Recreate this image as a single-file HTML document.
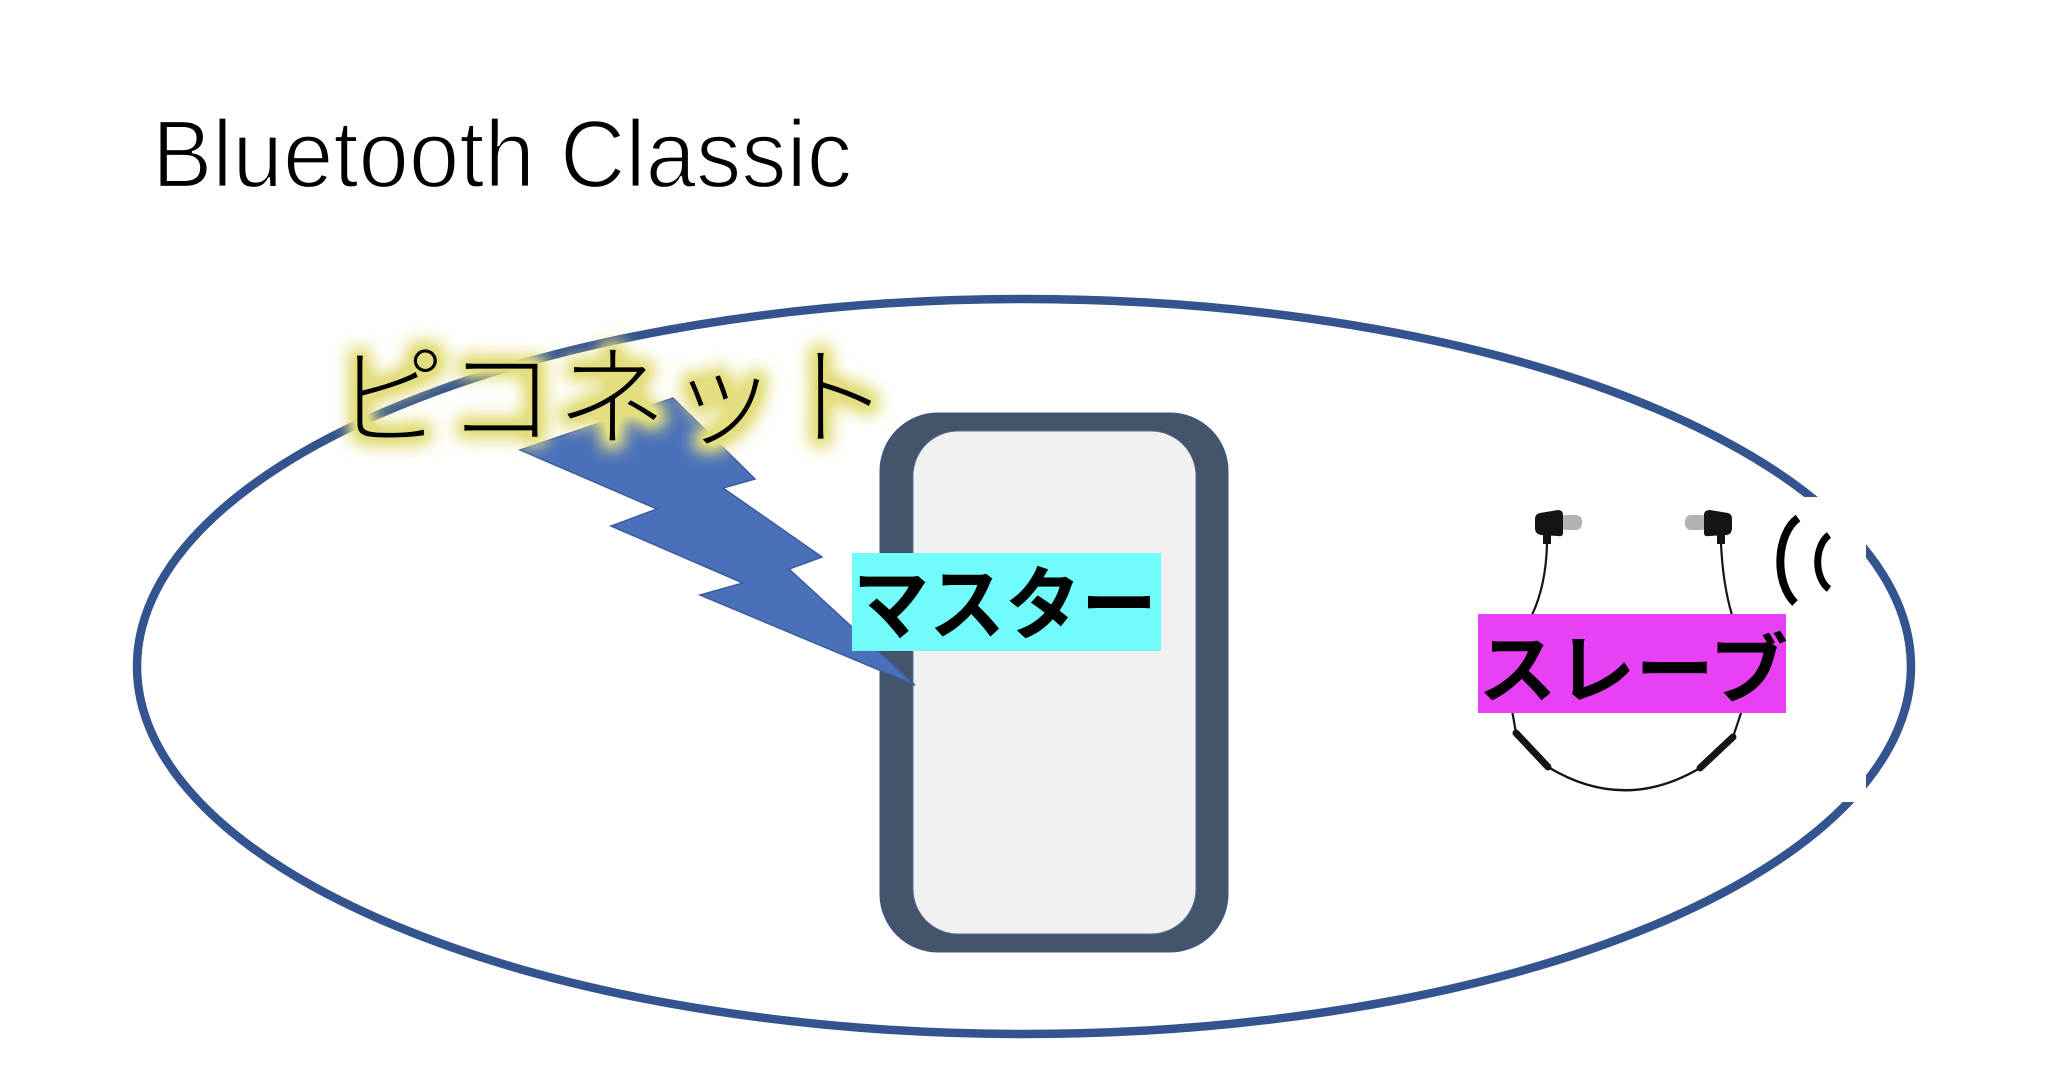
<!DOCTYPE html>
<html>
<head>
<meta charset="utf-8">
<style>
  html, body { margin: 0; padding: 0; background: #ffffff; }
  body { width: 2048px; height: 1091px; overflow: hidden; }
  svg { display: block; }
</style>
</head>
<body>
<svg width="2048" height="1091" viewBox="0 0 2048 1091" xmlns="http://www.w3.org/2000/svg">
  <defs>
    <filter id="glow" x="-20%" y="-50%" width="140%" height="200%">
      <feMorphology in="SourceAlpha" operator="dilate" radius="7" result="d"/>
      <feGaussianBlur in="d" stdDeviation="8.5" result="b"/>
      <feComponentTransfer in="b" result="b2">
        <feFuncA type="linear" slope="1.35"/>
      </feComponentTransfer>
      <feFlood flood-color="#E3DE80" flood-opacity="1" result="c"/>
      <feComposite in="c" in2="b2" operator="in" result="g"/>
      <feMerge>
        <feMergeNode in="g"/>
        <feMergeNode in="SourceGraphic"/>
      </feMerge>
    </filter>
  </defs>

  <rect x="0" y="0" width="2048" height="1091" fill="#ffffff"/>

  <!-- Title -->
  <text x="152" y="187" font-family="'Liberation Sans', sans-serif" font-size="96" fill="#000"
        stroke="#fff" stroke-width="2.2" textLength="700" lengthAdjust="spacingAndGlyphs">Bluetooth Classic</text>

  <!-- Piconet ellipse -->
  <ellipse cx="1024" cy="666.5" rx="887" ry="367.5" fill="none" stroke="#34548F" stroke-width="8.5"/>

  <!-- white background of earphone picture covering ellipse -->
  <rect x="1470" y="497" width="396" height="305" fill="#ffffff"/>

  <!-- Phone -->
  <rect x="880" y="413" width="348" height="539" rx="58" ry="58" fill="#44546A" stroke="#3A5488" stroke-width="1"/>
  <rect x="913" y="431" width="283" height="503" rx="45" ry="45" fill="#F1F1F1" stroke="#5A6E90" stroke-width="1"/>

  <!-- Lightning bolt -->
  <polygon points="673,398 755,479 723,488 822,557 789,569 915,685 700,595 743,583 611,526 657,509 520,450"
           fill="#4A70BA" stroke="#3B5C9E" stroke-width="1.5" stroke-linejoin="miter"/>

  <!-- Master label -->
  <rect x="852" y="553" width="309" height="98" fill="#72FBFB"/>
  <text x="853" y="633" font-family="'Liberation Sans', 'Noto Sans CJK JP', sans-serif" font-weight="700"
        font-size="80" fill="#000" textLength="304" lengthAdjust="spacingAndGlyphs">マスター</text>

  <!-- Earphones -->
  <g>
    <!-- left bud -->
    <rect x="1560" y="515" width="22" height="15" rx="6" ry="6" fill="#B3B3B3"/>
    <path d="M1540,513 L1558,510 Q1563,510 1563,515 L1563,533 Q1563,537 1558,536 L1541,535 Q1535,534 1535,528 L1535,519 Q1535,514 1540,513 Z" fill="#141414"/>
    <rect x="1543" y="534" width="8" height="10" fill="#141414"/>
    <path d="M1547,544 Q1546,585 1532,615" fill="none" stroke="#141414" stroke-width="2.2"/>
    <!-- right bud -->
    <rect x="1685" y="515" width="22" height="15" rx="6" ry="6" fill="#B3B3B3"/>
    <path d="M1728,513 L1710,510 Q1704,510 1704,515 L1704,533 Q1704,537 1709,536 L1727,535 Q1732,534 1732,528 L1732,519 Q1732,514 1728,513 Z" fill="#141414"/>
    <rect x="1717" y="534" width="8" height="10" fill="#141414"/>
    <path d="M1721,544 Q1723,585 1732,615" fill="none" stroke="#141414" stroke-width="2.2"/>
    <!-- lower wire -->
    <path d="M1512,710 L1516,733" fill="none" stroke="#141414" stroke-width="2.2"/>
    <path d="M1516,733 L1548,767" fill="none" stroke="#141414" stroke-width="7" stroke-linecap="round"/>
    <path d="M1548,767 Q1624,813 1700,768" fill="none" stroke="#141414" stroke-width="2.4"/>
    <path d="M1700,768 L1733,737" fill="none" stroke="#141414" stroke-width="7" stroke-linecap="round"/>
    <path d="M1733,737 L1742,710" fill="none" stroke="#141414" stroke-width="2.2"/>
    <!-- waves -->
    <path d="M1798,518 A 30 48 0 0 0 1795,603" fill="none" stroke="#000" stroke-width="8"/>
    <path d="M1829,535 A 20 30 0 0 0 1829,589" fill="none" stroke="#000" stroke-width="7"/>
  </g>

  <!-- Slave label -->
  <rect x="1478" y="614" width="308" height="99" fill="#E840F5"/>
  <text x="1478" y="697" font-family="'Liberation Sans', 'Noto Sans CJK JP', sans-serif" font-weight="700"
        font-size="76" fill="#000" textLength="310" lengthAdjust="spacingAndGlyphs">スレーブ</text>

  <!-- Piconet label with glow -->
  <text x="334" y="437" font-family="'Liberation Sans', 'Noto Sans CJK JP', sans-serif" font-weight="300"
        font-size="110" fill="#000" stroke="#E3DE80" stroke-width="0.8" filter="url(#glow)" textLength="556" lengthAdjust="spacingAndGlyphs">ピコネット</text>
</svg>
</body>
</html>
